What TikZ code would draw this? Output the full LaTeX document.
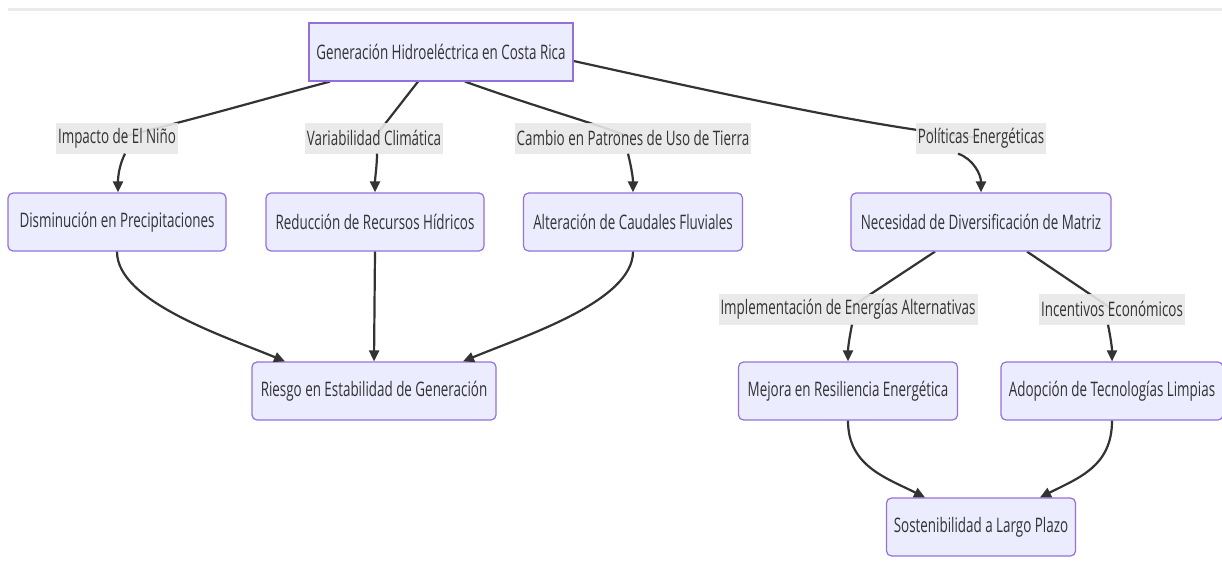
\documentclass[tikz,border=0pt]{standalone}
\usepackage{fontspec}
\setmainfont[FakeStretch=0.67]{Open Sans}
\usetikzlibrary{arrows.meta,backgrounds}
\definecolor{nodefill}{HTML}{ECECFF}
\definecolor{nodeline}{HTML}{9370DB}
\definecolor{lblfill}{HTML}{E8E8E8}
\definecolor{edgecol}{HTML}{333333}
\definecolor{txt}{HTML}{333333}
\definecolor{topline}{HTML}{EBEBEB}
\tikzset{
  box/.style={draw=nodeline, fill=nodefill, line width=1.2pt, rounded corners=5pt,
    minimum height=58pt, inner sep=0pt, text=txt, font=\fontsize{20}{24}\selectfont},
  sqbox/.style={box, rounded corners=0pt},
  lbl/.style={fill=lblfill, fill opacity=0.9, text opacity=1, inner ysep=0pt, inner xsep=2pt,
    minimum height=31pt, text=txt, font=\fontsize{20}{24}\selectfont},
  edge/.style={draw=edgecol, line width=2.2pt},
  arr/.style={edge, -{Triangle[length=11pt,width=10pt]}},
}
\begin{document}
\begin{tikzpicture}[x=1pt,y=-1pt]
\useasboundingbox (0,0) rectangle (1222,567);
\fill[topline] (8,8) rectangle (1222,11);
% nodes
\node[sqbox, minimum width=264pt] (top) at (441,52) {Generación Hidroeléctrica en Costa Rica};
\node[lbl] (l1) at (117,138) {Impacto de El Niño};
\node[lbl] (l2) at (374,138) {Variabilidad Climática};
\node[lbl] (l3) at (633,138) {Cambio en Patrones de Uso de Tierra};
\node[lbl] (l4) at (981,138) {Políticas Energéticas};
\node[box, minimum width=218pt] (n1) at (117,222) {Disminución en Precipitaciones};
\node[box, minimum width=218pt] (n2) at (375,222) {Reducción de Recursos Hídricos};
\node[box, minimum width=219pt] (n3) at (633,222) {Alteración de Caudales Fluviales};
\node[box, minimum width=260pt] (n4) at (981,222) {Necesidad de Diversificación de Matriz};
\node[box, minimum width=244pt] (r) at (374,391) {Riesgo en Estabilidad de Generación};
\node[lbl] (l5) at (848,309) {Implementación de Energías Alternativas};
\node[lbl] (l6) at (1112,309) {Incentivos Económicos};
\node[box, minimum width=219pt] (m) at (848,391) {Mejora en Resiliencia Energética};
\node[box, minimum width=222pt] (a) at (1112,391) {Adopción de Tecnologías Limpias};
\node[box, minimum width=189pt] (s) at (981,527) {Sostenibilidad a Largo Plazo};
% edges
\begin{pgfonlayer}{background}
\draw[edge] ([xshift=-111pt]top.south) .. controls (260,100) and (200,118) .. (l1.center);
\draw[edge] ([xshift=-23pt]top.south) -- (l2.center);
\draw[edge] ([xshift=24pt]top.south) .. controls (530,105) and (600,125) .. (l3.center);
\draw[edge] ([yshift=-9pt]top.east) .. controls (750,100) and (880,128) .. (l4.center);
\draw[edge] ([xshift=-46pt]n4.south) -- (l5.center);
\draw[edge] ([xshift=46pt]n4.south) -- (l6.center);
\end{pgfonlayer}
\draw[arr] ([xshift=8pt]l1.south) .. controls +(-5,10) and +(0,-18) .. ([xshift=1pt]n1.north);
\draw[arr] ([xshift=3pt]l2.south) .. controls +(0,12) and +(0,-15) .. (n2.north);
\draw[arr] ([xshift=-5pt]l3.south) .. controls +(3,12) and +(0,-15) .. (n3.north);
\draw[arr] ([xshift=-23pt]l4.south) .. controls +(15,5) and +(0,-18) .. (n4.north);
\draw[arr] (n1.south) .. controls +(0,50) and +(-60,-25) .. ([xshift=-89pt]r.north);
\draw[arr] (n2.south) -- (r.north);
\draw[arr] (n3.south) .. controls +(0,50) and +(60,-25) .. ([xshift=89pt]r.north);
\draw[arr] ([xshift=4pt]l5.south) .. controls +(-2,10) and +(0,-15) .. (m.north);
\draw[arr] ([xshift=-4pt]l6.south) .. controls +(2,10) and +(0,-15) .. (a.north);
\draw[arr] (m.south) .. controls +(0,45) and +(-40,-20) .. ([xshift=-56pt]s.north);
\draw[arr] (a.south) .. controls +(0,45) and +(40,-20) .. ([xshift=59pt]s.north);
\end{tikzpicture}
\end{document}
